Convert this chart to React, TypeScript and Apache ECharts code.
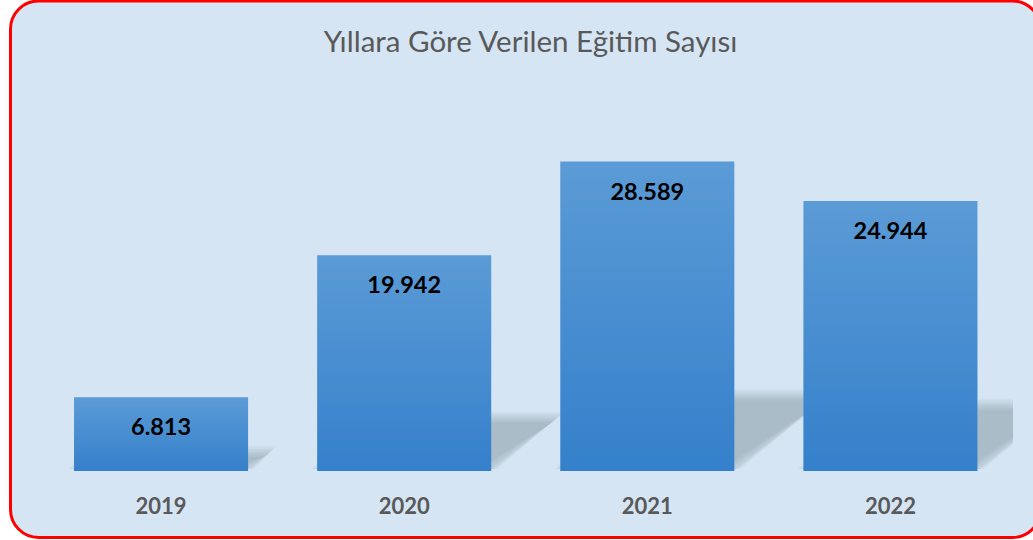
import React, { useEffect, useRef } from "react";
import * as echarts from "echarts";

const categories = ["2019", "2020", "2021", "2022"];
const values = [6813, 19942, 28589, 24944];
const titleText = "Yıllara Göre Verilen Eğitim Sayısı";

const fmt = (v: number) => v.toLocaleString("de-DE");

const GAP = 0.284;

export default function App() {
  const ref = useRef<HTMLDivElement>(null);
  useEffect(() => {
    const chart = echarts.init(ref.current!, null, { renderer: "svg" });
    chart.setOption({
      animation: false,
      backgroundColor: "#ffffff",
      graphic: [
        {
          type: "rect",
          z: -10,
          silent: true,
          shape: { x: 10.5, y: 1, width: 1030, height: 536.5, r: 28 },
          style: { fill: "#D6E5F4", stroke: "#FF0000", lineWidth: 3 },
        },
      ],
      title: {
        text: titleText,
        left: 525.5,
        top: 20,
        textAlign: "center",
        textStyle: {
          fontFamily: "Lato",
          fontWeight: "normal",
          fontSize: 29.5,
          color: "#595959",
        },
      },
      grid: { left: 39.5, right: 21, top: 38, bottom: 69 },
      xAxis: {
        type: "category",
        data: categories,
        axisLine: { show: false },
        axisTick: { show: false },
        axisLabel: {
          margin: 23,
          fontFamily: "Lato",
          fontWeight: "bold",
          fontSize: 22,
          color: "#595959",
        },
      },
      yAxis: {
        type: "value",
        min: 0,
        max: 40000,
        show: false,
        splitLine: { show: false },
      },
      series: [
        {
          type: "custom",
          clip: true,
          z: 1,
          silent: true,
          data: values.map((v, i) => [i, v]),
          encode: { x: 0, y: 1 },
          renderItem: (params: any, api: any) => {
            const i = api.value(0);
            const v = api.value(1);
            const base = api.coord([i, 0]);
            const top = api.coord([i, v]);
            const band = api.size([1, 0])[0];
            const w = band * (1 - GAP);
            const L = base[0] - w / 2;
            const R = base[0] + w / 2;
            const B = base[1] - 2;
            const h = 0.24 * (B - top[1]);
            const dx = 1.3 * h;
            const N = 8;
            const children: any[] = [];
            for (let j = 0; j < N; j++) {
              const e = 6 - j * 1.6;
              children.push({
                type: "polygon",
                shape: {
                  points: [
                    [L - e, B + Math.min(e, 0)],
                    [R + e, B + Math.min(e, 0)],
                    [R + dx + e, B - h - e],
                    [L + dx - e, B - h - e],
                  ],
                },
                style: { fill: "rgba(40,50,70,0.033)" },
              });
            }
            return { type: "group", children };
          },
        },
        {
          type: "bar",
          z: 2,
          data: values,
          barCategoryGap: GAP * 100 + "%",
          itemStyle: {
            color: new echarts.graphic.LinearGradient(0, 0, 0, 1, [
              { offset: 0, color: "#5B9BD6" },
              { offset: 1, color: "#3580CB" },
            ]),
          },
          label: {
            show: true,
            position: ["50%", 29],
            align: "center",
            verticalAlign: "middle",
            formatter: (p: any) => fmt(p.value),
            fontFamily: "Lato",
            fontWeight: "bold",
            fontSize: 23.5,
            color: "#000000",
          },
        },
      ],
    });
    return () => chart.dispose();
  }, []);
  return (
    <div
      ref={ref}
      style={{ position: "fixed", left: 0, top: 0, width: 1033, height: 540 }}
    />
  );
}
